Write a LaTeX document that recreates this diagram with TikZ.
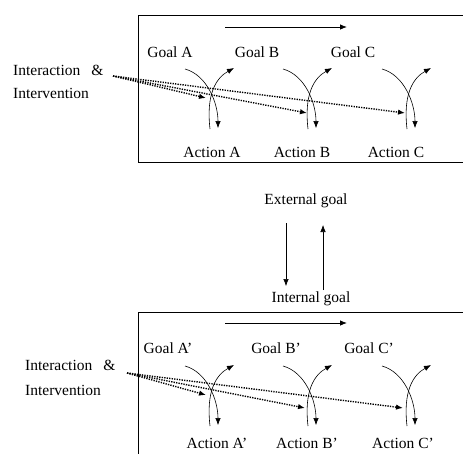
\documentclass[tikz,border=0pt]{standalone}
\usepackage{fontspec}
\setmainfont{Liberation Serif}
\usetikzlibrary{arrows.meta}

\tikzset{
  lbl/.style={inner sep=0pt, font=\fontsize{15.5}{17}\selectfont},
  arcline/.style={semithick, -{Latex[length=7pt,width=5.5pt]}},
  dots/.style={line width=1.4pt, dash pattern=on 1.3pt off 1.2pt, -{Latex[length=7pt,width=5.5pt]}},
  flow/.style={thick, -{Latex[length=7pt,width=5.5pt]}}
}

\begin{document}
\begin{tikzpicture}[x=1pt,y=-1pt]
\useasboundingbox (0,0) rectangle (463,453);

% upper panel
\draw [black] (138,15) rectangle (470,162);
\coordinate (arrL1) at (225,27);
\coordinate (arrR1) at (347,27);
\draw [flow] (arrL1) -- (arrR1);
\node [lbl] (goalA) at (170,52) {Goal A};
\node [lbl] (goalB) at (257,52) {Goal B};
\node [lbl] (goalC) at (353,52) {Goal C};
\node [lbl] (actA) at (212,152) {Action A};
\node [lbl] (actB) at (302,152) {Action B};
\node [lbl] (actC) at (396,152) {Action C};
\node [lbl, anchor=west] (inter1) at (13,70) {Interaction\hspace{11pt}\&};
\node [lbl, anchor=west] (interv1) at (13,93) {Intervention};
\coordinate (src1) at (113,76);
\coordinate (tipA1) at (206,98);
\coordinate (tipB1) at (307,113);
\coordinate (tipC1) at (405,113);
\foreach \c/\x in {A/185, B/283, C/382} {
  \coordinate (gs\c1) at (\x,69);
  \coordinate (ge\c1) at (\x+33,128);
  \coordinate (as\c1) at (\x+25,129);
  \coordinate (ae\c1) at (\x+49,68);
  \draw [arcline] (gs\c1) .. controls +(22,6) and +(0,-25) .. (ge\c1);
  \draw [arcline] (as\c1) .. controls +(-4,-35) and +(-18,10) .. (ae\c1);
  \draw [dots] (src1) -- (tip\c1);
}

% between the panels
\node [lbl] (extgoal) at (306,201) {External goal};
\node [lbl] (intgoal) at (311,299) {Internal goal};
\coordinate (dnTop) at (286,223);
\coordinate (dnBot) at (286,286);
\coordinate (upBot) at (323,290);
\coordinate (upTop) at (323,225);
\draw [flow, semithick] (dnTop) -- (dnBot);
\draw [flow, semithick] (upBot) -- (upTop);

% lower panel
\draw [black] (138,312) rectangle (470,470);
\coordinate (arrL2) at (225,323);
\coordinate (arrR2) at (347,323);
\draw [flow] (arrL2) -- (arrR2);
\node [lbl] (goalA2) at (168,348) {Goal A’};
\node [lbl] (goalB2) at (276,348) {Goal B’};
\node [lbl] (goalC2) at (369,348) {Goal C’};
\node [lbl] (actA2) at (217,443) {Action A’};
\node [lbl] (actB2) at (307,443) {Action B’};
\node [lbl] (actC2) at (403,443) {Action C’};
\node [lbl, anchor=west] (inter2) at (25,365) {Interaction\hspace{11pt}\&};
\node [lbl, anchor=west] (interv2) at (25,390) {Intervention};
\coordinate (src2) at (127,373);
\coordinate (tipA2) at (206,395);
\coordinate (tipB2) at (305,408);
\coordinate (tipC2) at (403,408);
\foreach \c/\x in {A/185, B/283, C/382} {
  \coordinate (gs\c2) at (\x,366);
  \coordinate (ge\c2) at (\x+33,425);
  \coordinate (as\c2) at (\x+25,426);
  \coordinate (ae\c2) at (\x+49,365);
  \draw [arcline] (gs\c2) .. controls +(22,6) and +(0,-25) .. (ge\c2);
  \draw [arcline] (as\c2) .. controls +(-4,-35) and +(-18,10) .. (ae\c2);
  \draw [dots] (src2) -- (tip\c2);
}
\end{tikzpicture}
\end{document}
